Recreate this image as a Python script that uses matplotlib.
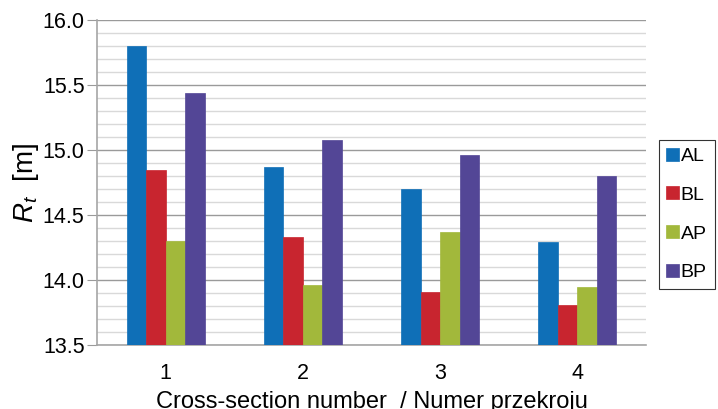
import numpy as np
import matplotlib
matplotlib.use("Agg")
import matplotlib.pyplot as plt
from matplotlib.ticker import MultipleLocator

plt.rcParams['font.family'] = ['Liberation Sans', 'DejaVu Sans']
plt.rcParams['mathtext.fontset'] = 'custom'
plt.rcParams['mathtext.rm'] = 'Liberation Sans'
plt.rcParams['mathtext.it'] = 'Liberation Sans:italic'

# data
sections = ['1', '2', '3', '4']
series = ['AL', 'BL', 'AP', 'BP']
al = [15.80, 14.87, 14.70, 14.29]
bl = [14.85, 14.33, 13.91, 13.81]
ap = [14.30, 13.96, 14.37, 13.95]
bp = [15.44, 15.08, 14.96, 14.80]
colors = ['#0F6FB7', '#C8252F', '#A2B83B', '#534696']

fig = plt.figure(figsize=(7.18, 4.09), dpi=100)
ax = fig.add_axes([0.1351, 0.1565, 0.7646, 0.7945])

x = np.arange(len(sections))
w = 0.142
base = 13.5
for i, (vals, c, name) in enumerate(zip([al, bl, ap, bp], colors, series)):
    heights = np.array(vals) - base
    ax.bar(x + (i - 1.5) * w, heights, w, bottom=base, color=c, label=name,
           zorder=3, edgecolor=c, linewidth=0.5)

ax.set_xlim(-0.5, 3.5)
ax.set_ylim(13.5, 16.0)
ax.yaxis.set_major_locator(MultipleLocator(0.5))
ax.yaxis.set_minor_locator(MultipleLocator(0.1))
ax.yaxis.set_major_formatter(matplotlib.ticker.FormatStrFormatter('%.1f'))
ax.set_xticks(x)
ax.set_xticklabels(sections)
ax.grid(axis='y', which='major', color='#9a9a9a', linewidth=1.0, zorder=0)
ax.grid(axis='y', which='minor', color='#d9d9d9', linewidth=1.0, zorder=0)
ax.tick_params(axis='y', which='major', length=7, color='#9a9a9a', labelsize=15.5, pad=2)
ax.tick_params(axis='y', which='minor', length=0)
ax.tick_params(axis='x', length=0, labelsize=15.5, pad=13)

for s in ['top', 'right']:
    ax.spines[s].set_visible(False)
for s in ['left', 'bottom']:
    ax.spines[s].set_color('#a6a6a6')
    ax.spines[s].set_linewidth(1.2)

ax.set_xlabel('Cross-section number  / Numer przekroju', fontsize=17, labelpad=5)
ax.set_ylabel(r'$R_t$  [m]', fontsize=20)
ax.yaxis.set_label_coords(-0.102, 0.5)

leg = fig.legend(loc='upper left', bbox_to_anchor=(658.5 / 718, 1 - 140 / 409),
                 fontsize=14, frameon=True, fancybox=False, edgecolor='black',
                 handlelength=0.65, handleheight=0.65, handletextpad=0.1,
                 labelspacing=1.1, borderpad=0.4, borderaxespad=0)
leg.get_frame().set_linewidth(0.8)

fig.savefig('out.png', dpi=100)
